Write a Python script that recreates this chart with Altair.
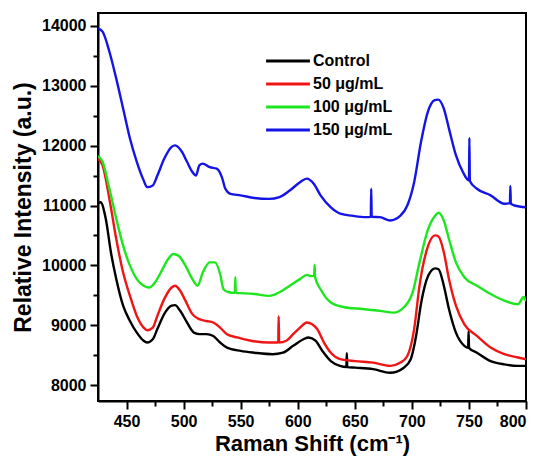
import altair as alt
import pandas as pd

series_names = ["Control", "50 μg/mL", "100 μg/mL", "150 μg/mL"]
series_colors = ["#000000", "#f01515", "#1ee61e", "#1414e6"]

control_x = [425, 427.2, 431.8, 436.3, 441, 447, 453, 459, 465, 468, 473, 477, 483, 489.5, 492.5, 497, 503, 509, 514, 520, 526, 532, 538, 550, 562, 578, 587, 596, 605, 609.5, 615.6, 621.6, 629, 637, 642.6, 643, 643.4, 650.5, 666, 681, 693, 699, 703.7, 708.2, 714.3, 720.4, 723.4, 728, 732.5, 738.6, 746, 749.3, 749.7, 750.1, 757, 769, 781, 793, 800]
control_y = [11030, 11055, 10780, 10220, 9770, 9325, 9070, 8875, 8740, 8710, 8765, 8935, 9185, 9325, 9335, 9240, 9045, 8875, 8850, 8850, 8820, 8710, 8625, 8570, 8540, 8515, 8540, 8655, 8765, 8795, 8740, 8570, 8400, 8320, 8300, 8530, 8300, 8290, 8265, 8205, 8290, 8430, 8820, 9380, 9825, 9950, 9935, 9660, 9270, 8875, 8655, 8620, 8900, 8620, 8540, 8400, 8345, 8320, 8320]

red_x = [425, 429, 435, 441, 447, 453, 459, 465, 468, 473, 477, 483, 489.5, 492.5, 497, 501.6, 507.7, 513.8, 520, 526, 532, 538, 547, 559, 575, 582.9, 583.3, 583.7, 590, 596, 602, 608, 612.6, 617, 623, 629, 638, 650.5, 666, 681, 690, 696, 702, 706.7, 714.3, 720.4, 723.4, 728, 732.5, 738.6, 746, 757, 769, 781, 793, 800]
red_y = [11780, 11670, 11110, 10440, 9880, 9490, 9155, 8960, 8915, 8960, 9155, 9435, 9630, 9660, 9575, 9410, 9185, 9100, 9070, 9045, 8960, 8850, 8795, 8740, 8710, 8710, 9150, 8710, 8740, 8850, 8960, 9045, 9015, 8935, 8710, 8540, 8430, 8400, 8375, 8320, 8375, 8485, 8935, 9660, 10330, 10500, 10480, 10220, 9770, 9325, 9015, 8820, 8625, 8515, 8460, 8430]

green_x = [425, 429, 435, 441, 447, 453, 459, 465, 470, 474, 480, 486.5, 491, 495.6, 501.6, 507.7, 512.3, 516.8, 522.9, 527.5, 532, 535, 539.6, 544.9, 545.3, 545.7, 550, 562, 575, 584, 593, 602, 608, 612, 614.4, 614.8, 615.2, 620, 629, 641, 657, 672, 684, 693, 700.7, 706.7, 714.3, 720.4, 723.4, 728, 732.5, 738.6, 746, 757, 769, 781, 793, 798, 800]
green_y = [11830, 11730, 11280, 10780, 10330, 9995, 9770, 9660, 9630, 9690, 9880, 10105, 10190, 10160, 9995, 9770, 9660, 9880, 10050, 10050, 9855, 9600, 9550, 9540, 9800, 9540, 9535, 9520, 9490, 9550, 9660, 9770, 9840, 9820, 9830, 10010, 9800, 9600, 9380, 9300, 9270, 9240, 9210, 9300, 9550, 10050, 10610, 10830, 10880, 10750, 10440, 10050, 9800, 9660, 9520, 9410, 9350, 9470, 9400]

blue_x = [425, 429, 435, 441, 447, 453, 459, 465, 468, 473, 477, 483, 489.5, 492.5, 498.6, 503, 507.7, 510.8, 513.8, 516.8, 522.9, 529, 533.5, 536.6, 541, 550, 562, 575, 584, 593, 602, 608, 614, 620, 629, 638, 647.5, 659.6, 664.0, 664.4, 664.8, 672, 681, 690, 696, 702, 708, 714, 720, 723, 728, 732.5, 738.6, 744.7, 750.0, 750.4, 750.8, 757, 769, 781, 785.9, 786.3, 786.7, 790, 800]
blue_y = [13960, 13905, 13570, 13120, 12620, 12120, 11730, 11420, 11307, 11335, 11500, 11780, 11980, 12005, 11895, 11730, 11560, 11500, 11670, 11700, 11640, 11615, 11475, 11280, 11195, 11170, 11125, 11110, 11140, 11250, 11390, 11450, 11365, 11170, 10970, 10860, 10830, 10805, 10810, 11280, 10810, 10805, 10750, 10830, 11000, 11390, 12060, 12565, 12760, 12770, 12620, 12285, 11840, 11560, 11420, 12130, 11410, 11280, 11170, 11030, 11040, 11325, 11030, 11000, 10970]

x_ticks = list(range(450, 801, 25))
y_ticks = list(range(8000, 14001, 500))

frames = []
for name, xs, ys in zip(series_names,
                        [control_x, red_x, green_x, blue_x],
                        [control_y, red_y, green_y, blue_y]):
    frames.append(pd.DataFrame({"shift": xs, "intensity": ys, "series": name, "order": range(len(xs))}))
df = pd.concat(frames, ignore_index=True)

FONT = "Liberation Sans"

chart = alt.Chart(df).mark_line(strokeWidth=2.4, clip=True, interpolate="monotone").encode(
    x=alt.X("shift:Q",
            scale=alt.Scale(domain=[425, 800], nice=False, zero=False),
            axis=alt.Axis(values=x_ticks, format="d",
                          labelExpr="datum.value % 50 === 0 ? datum.label : ''",
                          tickSize={"condition": {"test": "datum.value % 50 === 0", "value": 8}, "value": 5},
                          title="Raman Shift (cm⁻¹)")),
    y=alt.Y("intensity:Q",
            scale=alt.Scale(domain=[7733, 14217], nice=False, zero=False),
            axis=alt.Axis(values=y_ticks, format="d",
                          labelExpr="datum.value % 1000 === 0 ? datum.label : ''",
                          tickSize={"condition": {"test": "datum.value % 1000 === 0", "value": 8}, "value": 5},
                          title="Relative Intensity (a.u.)")),
    color=alt.Color("series:N",
                    scale=alt.Scale(domain=series_names, range=series_colors),
                    legend=alt.Legend(title=None, orient="none", legendX=182, legendY=40,
                                      symbolType="M-4,0H4", symbolSize=120, symbolStrokeWidth=3,
                                      labelFontSize=16, labelFont=FONT, labelFontWeight="bold",
                                      labelColor="black", labelOffset=17, rowPadding=7, padding=0)),
    detail="series:N",
    order="order:Q",
).properties(
    width=428, height=388,
    autosize=alt.AutoSizeParams(type="none"),
    padding={"left": 98, "top": 13, "right": 17, "bottom": 62},
).configure_view(
    stroke="black", strokeWidth=2
).configure_axis(
    domainColor="black", domainWidth=2, tickColor="black", tickWidth=2, ticks=True,
    grid=False, labelFont=FONT, labelFontSize=16, labelFontWeight="bold",
    labelColor="black", titleFont=FONT, titleColor="black", labelPadding=4,
).configure_axisX(
    titleFontSize=22, titleFontWeight="bold", titlePadding=4,
).configure_axisY(
    titleFontSize=23, titleFontWeight="bold", titlePadding=6,
)

chart.save("out.html", embed_options={"renderer": "svg", "actions": False})
